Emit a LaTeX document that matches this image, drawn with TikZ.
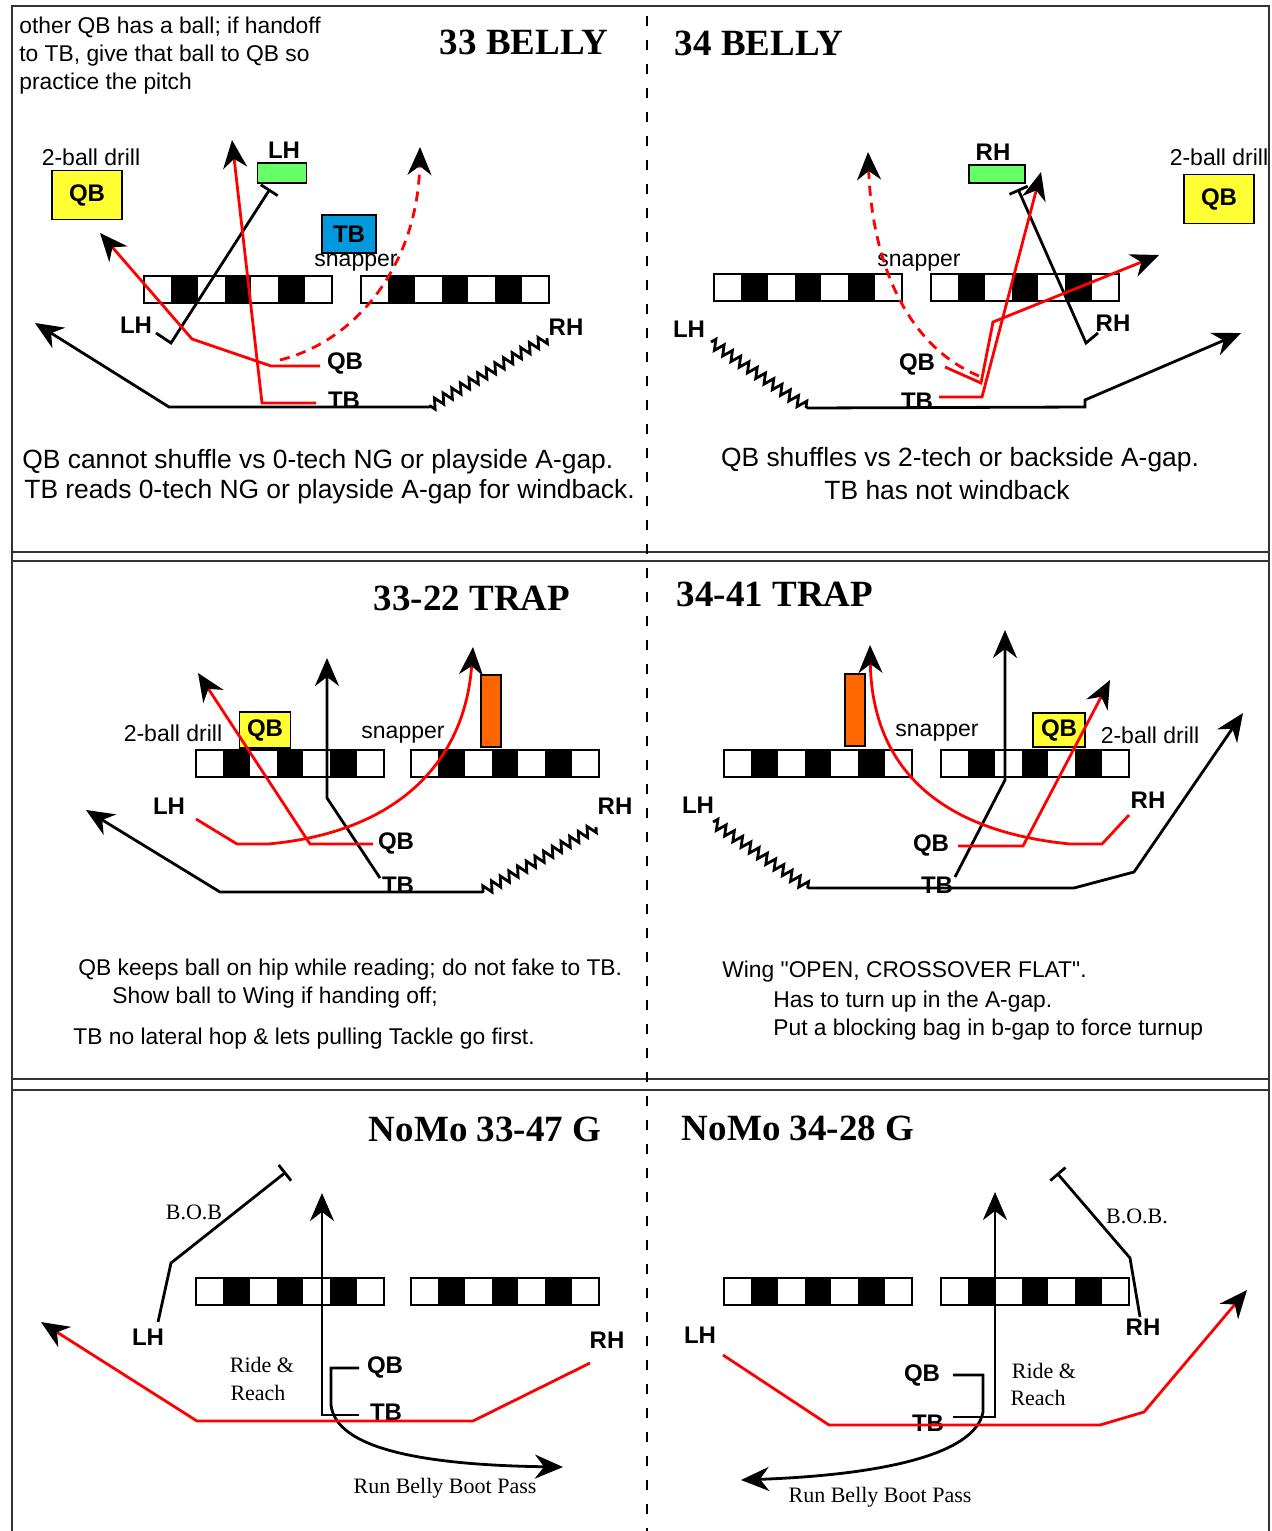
\documentclass[tikz,border=0pt]{standalone}
\usepackage{fontspec}
\setmainfont{Liberation Sans}[Ligatures=TeXOff]
\newfontfamily\timesfont{Liberation Serif}
\usetikzlibrary{arrows.meta, decorations.pathmorphing}
\definecolor{playred}{HTML}{FF0000}
\definecolor{drillyellow}{HTML}{FFFF33}
\definecolor{wingreen}{HTML}{66FF66}
\definecolor{tbblue}{HTML}{0099DD}
\definecolor{bagorange}{HTML}{FF6600}
\definecolor{rulegray}{HTML}{333333}

\begin{document}
\begin{tikzpicture}[x=0.5pt, y=-0.5pt,
  playname/.style={font=\timesfont\fontsize{18.5}{20}\selectfont\bfseries},
  notetxt/.style={font=\fontsize{13.2}{15}\selectfont, anchor=west, inner sep=0pt},
  drilltxt/.style={font=\fontsize{11.4}{14}\selectfont, inner sep=0pt},
  smalltxt/.style={font=\fontsize{11.5}{13}\selectfont, inner sep=0pt},
  seriftxt/.style={font=\timesfont\fontsize{11}{13}\selectfont, inner sep=0pt},
  player/.style={font=\fontsize{12}{14}\selectfont\bfseries, inner sep=0pt},
  qbbox/.style={draw=black, line width=0.8pt, fill=drillyellow, font=\fontsize{12}{14}\selectfont\bfseries, minimum width=35pt, minimum height=24.5pt, inner sep=0pt},
  wingbox/.style={draw=black, line width=0.8pt, fill=wingreen, minimum width=24.5pt, minimum height=10pt, inner sep=0pt},
  tbbox/.style={draw=black, line width=0.8pt, fill=tbblue, font=\fontsize{12}{14}\selectfont\bfseries, minimum width=27pt, minimum height=19pt, inner sep=0pt},
  bagbox/.style={draw=black, line width=0.8pt, fill=bagorange, minimum width=10pt, minimum height=36pt, inner sep=0pt},
  oline/.style={draw=black, line width=0.8pt},
  routeblk/.style={line width=1.4pt, black},
  routered/.style={line width=1.4pt, playred},
  runtip/.style={-{Stealth[length=14pt, width=12pt, inset=4.5pt, color=black]}},
  blocktip/.style={-{Bar[width=10pt]}},
  motion/.style={decoration={zigzag, segment length=5pt, amplitude=2.5pt}},
  fakepath/.style={dash pattern=on 5pt off 3.5pt},
  frame/.style={line width=1pt, rulegray},
  divider/.style={line width=0.6pt, dash pattern=on 5pt off 7pt}
]
\useasboundingbox (0,0) rectangle (1272,1531);

% page frame, row rules and centre divider
\draw[frame] (12,1531) -- (12,6) -- (1269,6) -- (1269,1531);
\foreach \ry in {552,561,1079,1090}
  \draw[frame] (12,\ry) -- (1269,\ry);
\draw[divider] (647,16) -- (647,1531);

% offensive lines
\foreach \bx/\by in {144/276, 361/276, 714/274, 931/274, 196/750, 411/750, 724/750, 941/750, 196/1278, 411/1278, 724/1278, 941/1278}{
  \foreach \c in {1,3,5}
    \fill (\bx+\c*26.857,\by) rectangle ++(26.857,27);
  \draw[oline] (\bx,\by) rectangle ++(188,27);
}

%% 33 BELLY
\node[playname] (belly33) at (524,42) {33 BELLY};
\node[drilltxt, align=left, anchor=north west] (pitch) at (19,17) {other QB has a ball; if handoff\\to TB, give that ball to QB so\\practice the pitch};
\node[smalltxt] (drill1) at (91,157) {2-ball drill};
\node[qbbox] (qb1box) at (87,195) {QB};
\node[player] (lh1top) at (284,150) {LH};
\node[wingbox] (lh1box) at (282,173) {};
\node[tbbox] (tb1box) at (349,234) {TB};
\node[smalltxt] (snap1) at (356,263) {snapper};
\node[player] (lh1) at (136,325) {LH};
\node[player] (qb1) at (345,363) {QB};
\node[player] (tb1) at (344,400) {TB};
\node[player] (rh1) at (566,327) {RH};

\draw[routeblk, runtip] (547,338) decorate[motion]{-- (429,407)} -- (169,407) -- (35,323);
\draw[routeblk, blocktip] (156,333) -- (171,343) -- (270,189);
\draw[routered, runtip] (320,366) -- (271,366) -- (192,339) -- (100,233);
\draw[routered, runtip] (316,403) -- (262,403) -- (232,140);
\draw[routered, fakepath, runtip] (280,360) .. controls (360,340) and (418,260) .. (420,147);

\node[notetxt] (rule1a) at (22,462) {QB cannot shuffle vs 0-tech NG or playside A-gap.};
\node[notetxt] (rule1b) at (24,492) {TB reads 0-tech NG or playside A-gap for windback.};

%% 34 BELLY
\node[playname] (belly34) at (759,43) {34 BELLY};
\node[player] (rh2top) at (993,152) {RH};
\node[wingbox, minimum width=28pt, minimum height=9pt] (rh2box) at (997,174) {};
\node[smalltxt] (drill2) at (1219,157) {2-ball drill};
\node[qbbox] (qb2box) at (1219,199) {QB};
\node[smalltxt] (snap2) at (919,263) {snapper};
\node[player] (lh2) at (689,329) {LH};
\node[player] (qb2) at (917,364) {QB};
\node[player] (tb2) at (917,401) {TB};
\node[player] (rh2) at (1113,323) {RH};

\draw[routeblk, runtip] (711,342) decorate[motion]{-- (808,408)} -- (1085,407) -- (1085,400) -- (1241,333);
\draw[routeblk, blocktip] (1098,333) -- (1086,343) -- (1018,189);
\draw[routered, fakepath, runtip] (979,376) .. controls (905,345) and (872,260) .. (868,152);
\draw[routered, runtip] (945,367) -- (981,383) -- (993,322) -- (1159,255);
\draw[routered, runtip] (939,397) -- (982,397) -- (1041,172);

\node[notetxt, anchor=center] (rule2a) at (960,460) {QB shuffles vs 2-tech or backside A-gap.};
\node[notetxt, anchor=center] (rule2b) at (947,490) {TB has not windback};

%% 33-22 TRAP
\node[playname] (trap3322) at (472,598) {33-22 TRAP};
\node[smalltxt] (drill3) at (173,733) {2-ball drill};
\node[qbbox, minimum width=25.5pt, minimum height=18pt] (qb3box) at (265,730) {QB};
\node[bagbox] (bag3) at (491,711) {};
\node[smalltxt] (snap3) at (403,735) {snapper};
\node[player] (lh3) at (169,806) {LH};
\node[player] (rh3) at (615,806) {RH};
\node[player] (qb3) at (396,843) {QB};
\node[player] (tb3) at (398,885) {TB};

\draw[routeblk, runtip] (596,827) decorate[motion]{-- (482,892)} -- (220,892) -- (86,810);
\draw[routeblk, runtip] (380,878) -- (327,798) -- (327,658);
\draw[routered, runtip] (373,844) -- (310,844) -- (198,673);
\draw[routered, runtip] (196,819) -- (237,844) -- (268,844) .. controls (400,832) and (465,760) .. (473,647);

\node[drilltxt, anchor=west] (rule3a) at (78,970) {QB keeps ball on hip while reading; do not fake to TB.};
\node[drilltxt, anchor=west] (rule3b) at (112,998) {Show ball to Wing if handing off;};
\node[drilltxt, anchor=west] (rule3c) at (73,1039) {TB no lateral hop \& lets pulling Tackle go first.};

%% 34-41 TRAP
\node[playname] (trap3441) at (775,594) {34-41 TRAP};
\node[bagbox] (bag4) at (855,710) {};
\node[smalltxt] (snap4) at (937,733) {snapper};
\node[qbbox, minimum width=26pt, minimum height=17pt] (qb4box) at (1059,730) {QB};
\node[smalltxt] (drill4) at (1150,735) {2-ball drill};
\node[player] (lh4) at (698,805) {LH};
\node[player] (rh4) at (1148,800) {RH};
\node[player] (qb4) at (931,845) {QB};
\node[player] (tb4) at (937,885) {TB};

\draw[routeblk, runtip] (713,822) decorate[motion]{-- (809,888)} -- (1074,888) -- (1134,872) -- (1243,713);
\draw[routeblk, runtip] (955,877) -- (1005,780) -- (1005,630);
\draw[routered, runtip] (958,846) -- (1023,846) -- (1110,680);
\draw[routered, runtip] (1129,815) -- (1102,844) -- (1070,844) .. controls (930,830) and (872,760) .. (870,645);

\node[drilltxt, anchor=west] (rule4a) at (722,972) {Wing "OPEN, CROSSOVER FLAT".};
\node[drilltxt, anchor=west] (rule4b) at (773,1002) {Has to turn up in the A-gap.};
\node[drilltxt, anchor=west] (rule4c) at (773,1030) {Put a blocking bag in b-gap to force turnup};

%% NoMo 33-47 G
\node[playname] (nomo47) at (485,1129) {NoMo 33-47 G};
\node[seriftxt] (bob5) at (194,1212) {B.O.B};
\node[player] (lh5) at (148,1337) {LH};
\node[player] (rh5) at (607,1340) {RH};
\node[player] (qb5) at (385,1367) {QB};
\node[player] (tb5) at (386,1412) {TB};
\node[seriftxt] (ride5) at (262,1365) {Ride \&};
\node[seriftxt] (reach5) at (258,1393) {Reach};
\node[seriftxt] (boot5) at (445,1488) {Run Belly Boot Pass};

\draw[routeblk, blocktip] (158,1322) -- (171,1263) -- (286,1172);
\draw[routeblk, runtip] (359,1415) -- (322,1415) -- (322,1193);
\draw[routeblk, runtip] (359,1368) -- (331,1368) -- (331,1405) .. controls (336,1448) and (420,1465) .. (563,1467);
\draw[routered, runtip] (590,1363) -- (473,1421) -- (197,1421) -- (41,1322);

%% NoMo 34-28 G
\node[playname] (nomo28) at (798,1128) {NoMo 34-28 G};
\node[seriftxt] (bob6) at (1137,1216) {B.O.B.};
\node[player] (lh6) at (700,1335) {LH};
\node[player] (rh6) at (1143,1327) {RH};
\node[player] (qb6) at (922,1375) {QB};
\node[player] (tb6) at (928,1423) {TB};
\node[seriftxt] (ride6) at (1044,1371) {Ride \&};
\node[seriftxt] (reach6) at (1038,1398) {Reach};
\node[seriftxt] (boot6) at (880,1497) {Run Belly Boot Pass};

\draw[routeblk, blocktip] (1140,1317) -- (1130,1258) -- (1057,1173);
\draw[routeblk, runtip] (953,1417) -- (995,1417) -- (995,1192);
\draw[routeblk, runtip] (953,1375) -- (983,1375) -- (983,1412) .. controls (975,1455) and (880,1475) .. (741,1480);
\draw[routered, runtip] (723,1355) -- (829,1425) -- (1100,1425) -- (1144,1412) -- (1247,1290);
\end{tikzpicture}
\end{document}
